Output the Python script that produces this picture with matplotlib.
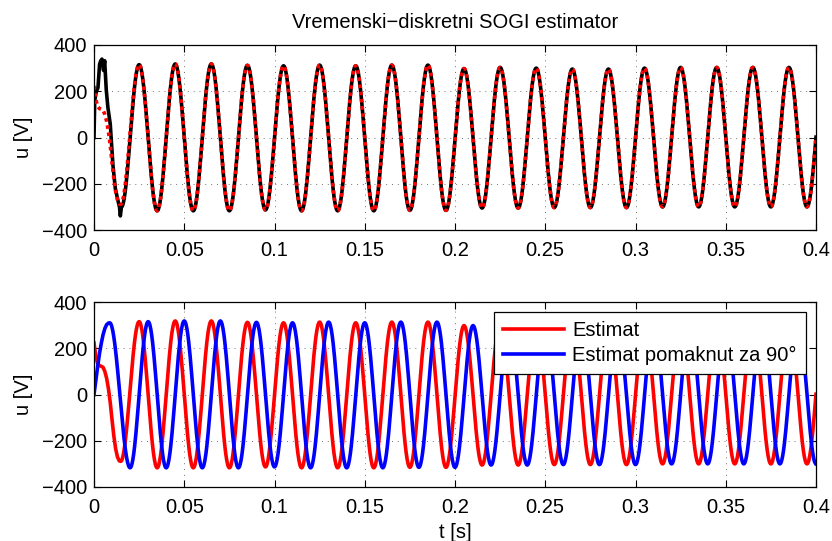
import numpy as np
import matplotlib.pyplot as plt
from matplotlib.ticker import FuncFormatter

plt.rcParams['font.family'] = ['Liberation Sans', 'DejaVu Sans']
plt.rcParams['font.size'] = 14.5

meas_t0 = [0, 0.0004, 0.0013, 0.0022, 0.0031, 0.0037, 0.0044, 0.0053, 0.0059,
           0.0068, 0.0077, 0.009, 0.0105, 0.0118, 0.0133, 0.0141, 0.0146, 0.0152]
meas_u0 = [0, 160, 200, 215, 317, 331, 339, 290, 332,
           205, 130, 58, -120, -220, -274, -300, -339, -300]

# start-up part of the SOGI estimate
est_t0 = [0, 0.001, 0.002, 0.003, 0.004, 0.005, 0.006, 0.007, 0.008,
          0.009, 0.010, 0.011, 0.012, 0.013, 0.014, 0.0148]
est_u0 = [223, 165, 135, 125, 122, 118, 100, 70, 25,
          -35, -110, -180, -235, -270, -287, -289]

# start-up part of the 90 deg shifted estimate
quad_t0 = [0, 0.001, 0.002, 0.003, 0.004, 0.005, 0.006, 0.007, 0.008, 0.0087]
quad_u0 = [0, 60, 120, 175, 220, 258, 285, 302, 309, 310]

# steady state, 50 Hz: peak / trough value of each cycle
peak_u = [315, 318, 318, 312, 310, 313, 310, 313, 313, 298,
          303, 300, 296, 296, 300, 303, 303, 303, 303]
trough_u = [-317, -317, -317, -313, -317, -317, -317, -315, -315, -305,
            -305, -303, -303, -303, -300, -300, -300, -300, -300]

half_period = 0.01
t_end = 0.4


def half_cos(ext_t, ext_u, n=40):
    """join successive extremes with half cosine arcs"""
    ts, us = [], []
    for i in range(len(ext_t) - 1):
        s = np.linspace(0, 1, n, endpoint=False)
        ts.append(ext_t[i] + s * (ext_t[i + 1] - ext_t[i]))
        us.append((ext_u[i] + ext_u[i + 1]) / 2
                  + (ext_u[i] - ext_u[i + 1]) / 2 * np.cos(np.pi * s))
    t = np.concatenate(ts)
    u = np.concatenate(us)
    keep = t <= t_end
    return t[keep], u[keep]


def build(t0, u0, t_first_peak, tail_u):
    alt = [v for pair in zip(peak_u, trough_u) for v in pair]
    ext_t = [t0[-1]] + [t_first_peak + half_period * k for k in range(len(alt) + 1)]
    ext_u = [u0[-1]] + alt + [tail_u]
    ts, us = half_cos(ext_t, ext_u)
    return np.concatenate([t0[:-1], ts]), np.concatenate([u0[:-1], us])


t_meas, u_meas = build(meas_t0, meas_u0, 0.025, 303)
t_est, u_est = build(est_t0, est_u0, 0.025, 303)
# shifted one: first trough at 0.02, then peaks at 0.03, 0.05, ...
alt_q = [trough_u[0]] + [v for pair in zip(peak_u, trough_u) for v in pair]
ext_tq = [quad_t0[-1]] + [0.02 + half_period * k for k in range(len(alt_q))]
tq, uq = half_cos(ext_tq, [quad_u0[-1]] + alt_q)
t_quad = np.concatenate([quad_t0[:-1], tq])
u_quad = np.concatenate([quad_u0[:-1], uq])

fig = plt.figure(figsize=(8.32, 5.41), dpi=100)
ax1 = fig.add_axes([94 / 832, 1 - 230 / 541, 722 / 832, 185 / 541])
ax2 = fig.add_axes([94 / 832, 1 - 487 / 541, 722 / 832, 185 / 541])

ax1.plot(t_meas, u_meas, color='black', lw=2.6, solid_joinstyle='round')
ax1.plot(t_est, u_est, color='#ff0000', lw=2.6, linestyle=(0, (1.0, 1.0)))
ax1.set_title('Vremenski\u2212diskretni SOGI estimator', fontsize=14.5, pad=12)

ax2.plot(t_est, u_est, color='#ff0000', lw=2.6, label='Estimat')
ax2.plot(t_quad, u_quad, color='#0000ff', lw=2.6, label='Estimat pomaknut za 90°')
ax2.set_xlabel('t [s]', labelpad=4)
leg = ax2.legend(loc='upper right', fancybox=False, framealpha=1, edgecolor='black',
                 borderaxespad=0.5, handlelength=3.05, handletextpad=0.4,
                 borderpad=0.45, labelspacing=0.3)
leg.get_frame().set_linewidth(0.9)

fmt = FuncFormatter(lambda v, p: '%g' % round(v, 4))
for ax in (ax1, ax2):
    ax.set_xlim(0, 0.4)
    ax.set_ylim(-400, 400)
    ax.set_xticks(np.arange(0, 0.401, 0.05))
    ax.set_yticks([-400, -200, 0, 200, 400])
    ax.xaxis.set_major_formatter(fmt)
    ax.grid(True, color='0.45', linestyle=(0, (1, 5)), linewidth=0.7)
    ax.tick_params(direction='in', length=5, width=0.8, top=True, right=True,
                   labelsize=14.5, pad=5)
    ax.tick_params(axis='x', pad=8)
    ax.set_ylabel('u [V]', labelpad=6)
    for sp in ax.spines.values():
        sp.set_linewidth(0.9)

fig.savefig('out.png', dpi=100)
